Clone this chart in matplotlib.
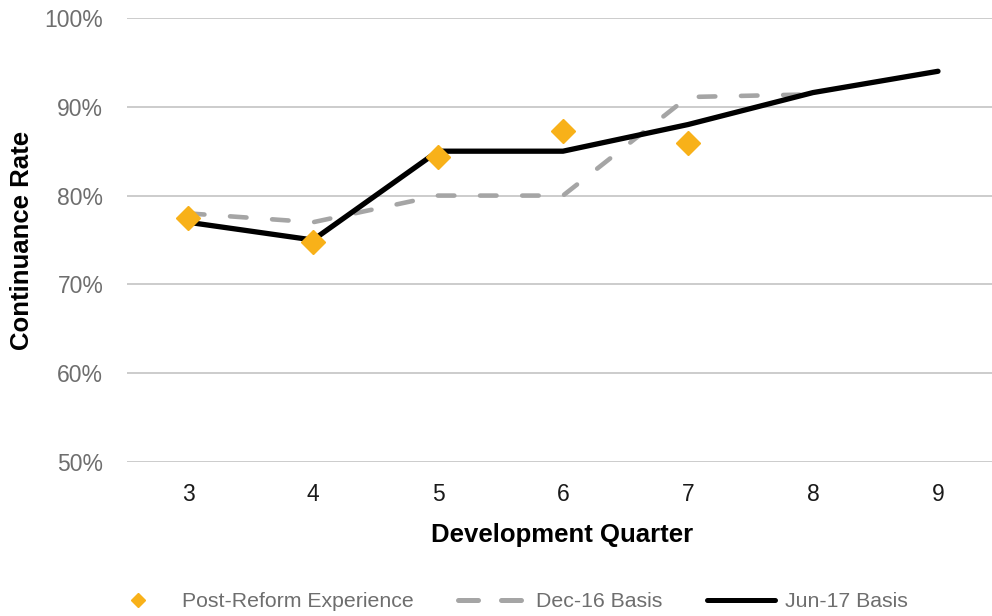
import numpy as np
import matplotlib.pyplot as plt
from matplotlib.lines import Line2D
from matplotlib.ticker import PercentFormatter

plt.rcParams['font.family'] = ['Liberation Sans', 'DejaVu Sans']

quarters = [3, 4, 5, 6, 7, 8, 9]
post_reform = [0.775, 0.748, 0.843, 0.873, 0.859]
dec16 = [0.780, 0.770, 0.800, 0.800, 0.911, 0.914]
jun17 = [0.770, 0.750, 0.850, 0.850, 0.880, 0.916, 0.940]

gold = '#F8B119'
grey = '#A5A5A5'

fig = plt.figure(figsize=(9.92, 6.16), dpi=100)
ax = fig.add_axes([0.128, 0.25, 0.872, 0.7208])

ax.plot(quarters[:len(dec16)], dec16, color=grey, lw=3.3,
        dash_capstyle='round', dashes=(3.6, 5.6), zorder=3)
ax.plot(quarters, jun17, color='black', lw=3.8, solid_capstyle='round', zorder=4)
ax.plot(quarters[:len(post_reform)], post_reform, ls='none', marker='D',
        ms=12.5, color=gold, mec=gold, zorder=5)

ax.set_xlim(2.512, 9.432)
ax.set_ylim(0.5, 1.0)
ax.set_xticks(quarters)
ax.set_yticks(np.arange(0.5, 1.01, 0.1))
ax.yaxis.set_major_formatter(PercentFormatter(1.0, decimals=0))
ax.grid(axis='y', color='#C8C8C8', lw=1.3)
ax.set_axisbelow(True)
for s in ax.spines.values():
    s.set_visible(False)
ax.tick_params(length=0)
ax.tick_params(axis='y', labelsize=16.5, labelcolor='#6E6E6E', pad=17)
ax.tick_params(axis='x', labelsize=16.5, labelcolor='#1A1A1A', pad=15)

ax.set_xlabel('Development Quarter', fontsize=18.5, fontweight='bold', va='center')
ax.xaxis.set_label_coords(0.503, -0.164)
ax.set_ylabel('Continuance Rate', fontsize=18.5, fontweight='bold', va='center', ha='center')
ax.yaxis.set_label_coords(-0.1214, 0.5)

# legend proxies: small diamond, two-dash grey line, solid black line
handles = [
    Line2D([], [], ls='none', marker='D', ms=7, color=gold),
    Line2D([], [], color=grey, lw=3.6, dash_capstyle='round', dashes=(4.0, 4.6)),
    Line2D([], [], color='black', lw=3.6, solid_capstyle='round'),
]
labels = ['Post-Reform Experience', 'Dec-16 Basis', 'Jun-17 Basis']
leg = fig.legend(handles, labels, loc='center', bbox_to_anchor=(0.51, 0.023),
                 ncol=3, frameon=False, fontsize=15.3, handlelength=3.2,
                 columnspacing=2.1, handletextpad=0.45, borderaxespad=0)
for t in leg.get_texts():
    t.set_color('#6E6E6E')

fig.savefig('out.png', dpi=100)
